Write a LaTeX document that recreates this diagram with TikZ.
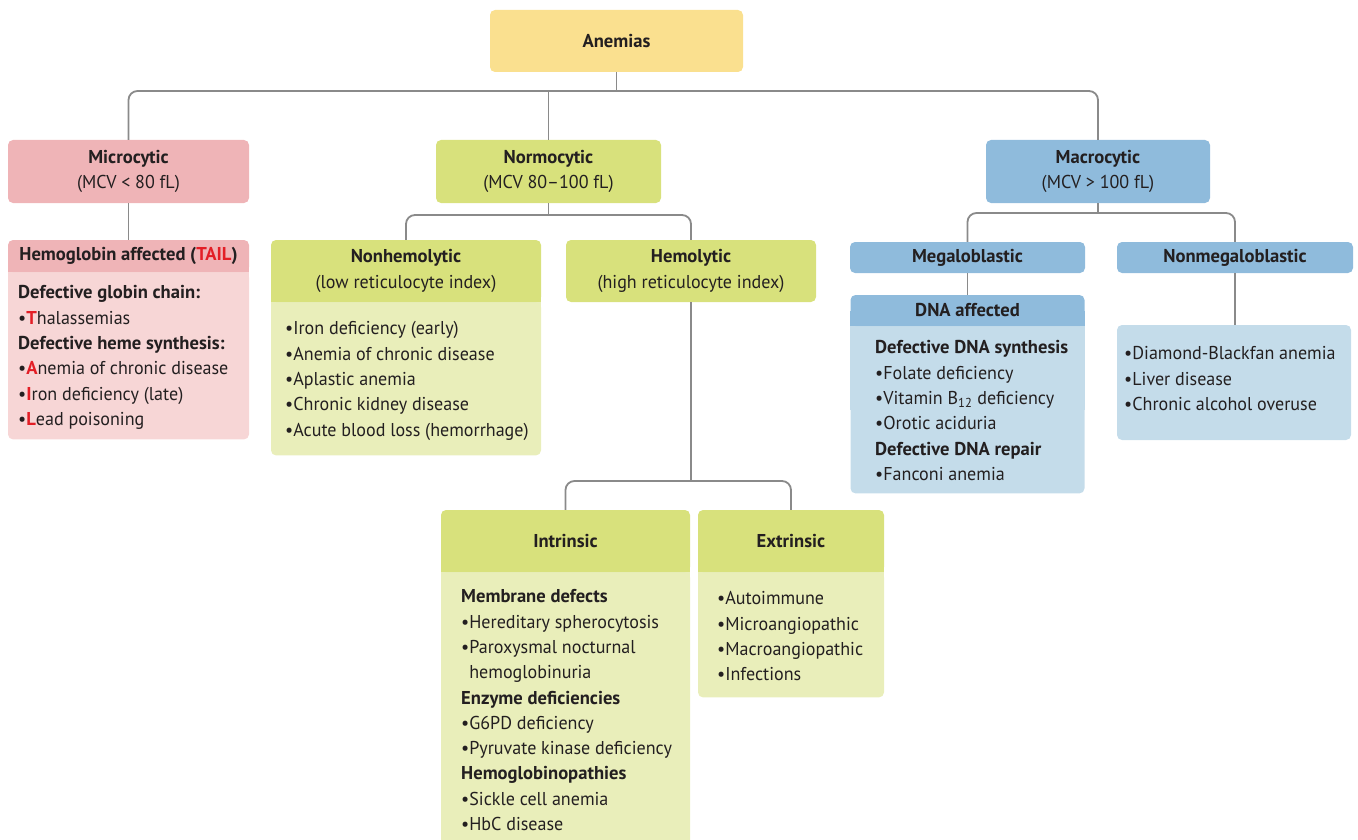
\documentclass[tikz,border=0pt]{standalone}
\usepackage{fontspec}
\setmainfont{PT Sans}[UprightFeatures={FakeStretch=0.97}]
\usetikzlibrary{backgrounds}
\usetikzlibrary{positioning}
\definecolor{anyellow}{HTML}{FAE08F}
\definecolor{anpink}{HTML}{EFB4B7}
\definecolor{anpinklt}{HTML}{F7D6D6}
\definecolor{angreen}{HTML}{D8E17C}
\definecolor{angreenlt}{HTML}{E9EEBA}
\definecolor{anblue}{HTML}{8FBBDC}
\definecolor{anbluelt}{HTML}{C4DCEA}
\definecolor{anline}{HTML}{8A8A8A}
\definecolor{anink}{HTML}{231F20}
\definecolor{anred}{HTML}{E31E26}
\newcommand{\antext}{\fontsize{18.6}{25.3}\selectfont}
\newcommand{\anred}[1]{\textcolor{anred}{\textbf{#1}}}
\tikzset{
  anhead/.style={
    rounded corners=5pt, inner sep=0pt, align=center,
    text=anink, font=\antext},
  anbody/.style={rounded corners=5pt, inner sep=0pt},
  anlist/.style={
    anchor=north west, inner sep=0pt, align=left,
    text=anink, font=\antext},
  anlink/.style={draw=anline, line width=1.8pt, rounded corners=9pt},
}

\begin{document}
\begin{tikzpicture}[x=1pt, y=-1pt]
\path[use as bounding box, clip] (0,0) rectangle (1358,840);

% Top level.
\node[anhead, fill=anyellow, minimum width=253, minimum height=62]
  (anemias) at (616.5, 41) {\textbf{Anemias}};
\node[anhead, fill=anpink, minimum width=241, minimum height=63]
  (micro) at (128.5, 171.5) {\textbf{Microcytic}\\(MCV < 80 fL)};
\node[anhead, fill=angreen, minimum width=225, minimum height=63]
  (normo) at (548.5, 171.5) {\textbf{Normocytic}\\(MCV 80–100 fL)};
\node[anhead, fill=anblue, minimum width=224, minimum height=63]
  (macro) at (1098, 171.5) {\textbf{Macrocytic}\\(MCV > 100 fL)};

% Microcytic branch.
\node[anhead, fill=anpink, minimum width=241, minimum height=32]
  (hemo) at (128.5, 256)
  {\textbf{Hemoglobin affected (\textcolor{anred}{TAIL})}};
\node[anbody, fill=anpinklt, minimum width=241, minimum height=167,
      below=0pt of hemo] (hemobody) {};
\node[anlist] (hemolist) at (18, 285.5)
  {\textbf{Defective globin chain:}\\
   •\anred{T}halassemias\\
   \textbf{Defective heme synthesis:}\\
   •\anred{A}nemia of chronic disease\\
   •\anred{I}ron deficiency (late)\\
   •\anred{L}ead poisoning};

% Normocytic branch.
\node[anhead, fill=angreen, minimum width=270, minimum height=62]
  (nonhemo) at (406, 271)
  {\textbf{Nonhemolytic}\\(low reticulocyte index)};
\node[anbody, fill=angreenlt, minimum width=270, minimum height=153,
      below=0pt of nonhemo] (nonhemobody) {};
\node[anlist] (nonhemolist) at (285, 321.5)
  {•Iron deficiency (early)\\
   •Anemia of chronic disease\\
   •Aplastic anemia\\
   •Chronic kidney disease\\
   •Acute blood loss (hemorrhage)};
\node[anhead, fill=angreen, minimum width=250, minimum height=62]
  (hemolytic) at (691, 271)
  {\textbf{Hemolytic}\\(high reticulocyte index)};

\node[anhead, fill=angreen, minimum width=249, minimum height=62]
  (intrinsic) at (565.5, 541) {\textbf{Intrinsic}};
\node[anbody, fill=angreenlt, minimum width=249, minimum height=308,
      below=0pt of intrinsic] (intrinsicbody) {};
\node[anlist] (intrinsiclist) at (461, 589.5)
  {\textbf{Membrane defects}\\
   •Hereditary spherocytosis\\
   •Paroxysmal nocturnal\\
   \phantom{•}hemoglobinuria\\
   \textbf{Enzyme deficiencies}\\
   •G6PD deficiency\\
   •Pyruvate kinase deficiency\\
   \textbf{Hemoglobinopathies}\\
   •Sickle cell anemia\\
   •HbC disease};
\node[anhead, fill=angreen, minimum width=186, minimum height=62]
  (extrinsic) at (791, 541) {\textbf{Extrinsic}};
\node[anbody, fill=angreenlt, minimum width=186, minimum height=125,
      below=0pt of extrinsic] (extrinsicbody) {};
\node[anlist] (extrinsiclist) at (717, 591.5)
  {•Autoimmune\\
   •Microangiopathic\\
   •Macroangiopathic\\
   •Infections};

% Macrocytic branch.
\node[anhead, fill=anblue, minimum width=235, minimum height=31]
  (megalo) at (967.5, 257.5) {\textbf{Megaloblastic}};
\node[anhead, fill=anblue, minimum width=234, minimum height=31]
  (dna) at (967.5, 310.5) {\textbf{DNA affected}};
\node[anbody, fill=anbluelt, minimum width=234, minimum height=167,
      below=0pt of dna] (dnabody) {};
\node[anlist] (dnalist) at (875, 340.5)
  {\textbf{Defective DNA synthesis}\\
   •Folate deficiency\\
   •Vitamin B\textsubscript{12} deficiency\\
   •Orotic aciduria\\
   \textbf{Defective DNA repair}\\
   •Fanconi anemia};
\node[anhead, fill=anblue, minimum width=236, minimum height=31]
  (nonmeg) at (1235, 257.5) {\textbf{Nonmegaloblastic}};
\node[anbody, fill=anbluelt, minimum width=234, minimum height=115]
  (nonmegbody) at (1234, 382.5) {};
\node[anlist] (nonmeglist) at (1124, 346.5)
  {•Diamond-Blackfan anemia\\
   •Liver disease\\
   •Chronic alcohol overuse};

% Square off the seams between headers and bodies.
\begin{scope}[on background layer]
  \fill[anpink] (hemo.west) rectangle (hemo.south east);
  \fill[anpinklt] (hemobody.north west) rectangle (hemobody.east);
  \fill[angreen] (nonhemo.west) rectangle (nonhemo.south east);
  \fill[angreenlt] (nonhemobody.north west) rectangle (nonhemobody.east);
  \fill[angreen] (intrinsic.west) rectangle (intrinsic.south east);
  \fill[angreenlt] (intrinsicbody.north west) rectangle (intrinsicbody.east);
  \fill[angreen] (extrinsic.west) rectangle (extrinsic.south east);
  \fill[angreenlt] (extrinsicbody.north west) rectangle (extrinsicbody.east);
  \fill[anblue] (dna.west) rectangle (dna.south east);
  \fill[anbluelt] (dnabody.north west) rectangle (dnabody.east);
\end{scope}

% Connectors.
\coordinate (topbus) at (616.5, 91);
\coordinate (normobus) at (548.5, 215);
\coordinate (hemobus) at (691, 481);
\coordinate (macrobus) at (1098, 213);
\draw[anlink] (anemias.south) -- (topbus);
\draw[anlink] (micro.north) |- (topbus) -| (macro.north);
\draw[anlink] (normo.north) -- (normo.north |- topbus);
\draw[anlink] (micro.south) -- (hemo.north);
\draw[anlink] (normo.south) -- (normobus);
\draw[anlink] (nonhemo.north) |- (normobus) -| (hemolytic.north);
\draw[anlink] (hemolytic.south) -- (hemobus);
\draw[anlink] (intrinsic.north) |- (hemobus) -| (extrinsic.north);
\draw[anlink] (macro.south) -- (macrobus);
\draw[anlink] (megalo.north) |- (macrobus) -| (nonmeg.north);
\draw[anlink] (megalo.south) -- (dna.north);
\draw[anlink] (nonmeg.south) -- (nonmeg.south |- nonmegbody.north);

\end{tikzpicture}
\end{document}
